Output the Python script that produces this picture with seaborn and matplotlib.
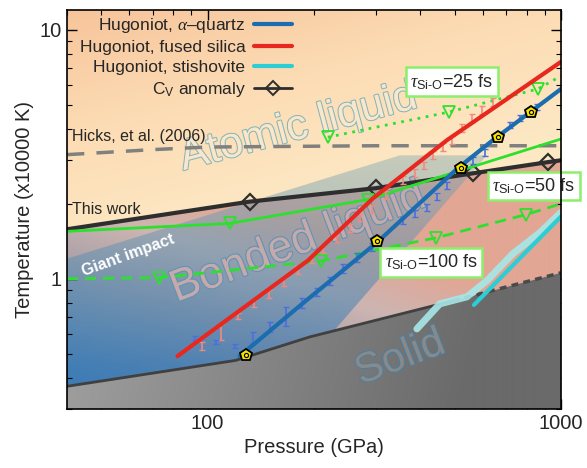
import numpy as np
import pandas as pd
import matplotlib
matplotlib.use("Agg")
import matplotlib.pyplot as plt
import matplotlib.patheffects as pe
import matplotlib.ticker as mticker
from matplotlib.colors import LinearSegmentedColormap
from matplotlib.patches import Polygon
from matplotlib.lines import Line2D
import seaborn as sns

# pressure in GPa, temperature in units of 10^4 K
this_work_p = [40, 131.5, 299, 563, 919, 1000]
this_work_t = [1.58, 2.04, 2.31, 2.65, 2.94, 2.99]

solid_p = [40, 120, 194.5, 494]
solid_t = [0.37, 0.47, 0.584, 0.815]
solid_dash_p = [494, 1000]
solid_dash_t = [0.815, 1.057]

hicks_p = [40, 70, 100, 300, 1000]
hicks_t = [3.15, 3.3, 3.38, 3.42, 3.42]

giant_p = [40, 350, 617, 221, 146, 40]
giant_t = [1.204, 3.13, 3.13, 0.589, 0.3, 0.3]

tau25_p = [218.8, 481.6, 860, 1000]
tau25_t = [3.70, 4.67, 5.78, 6.52]
tau50_p = [40, 115.4, 284, 1000]
tau50_t = [1.55, 1.667, 2.08, 3.64]
tau100_p = [40, 73, 210, 443, 796, 1000]
tau100_t = [1.0, 1.01, 1.18, 1.46, 1.81, 2.0]

fused_p = [82.2, 192, 293.4, 475.5, 1000]
fused_t = [0.489, 1.182, 2.10, 3.60, 7.43]
quartz_p = [123.2, 182.2, 301.2, 510, 641.5, 1000]
quartz_t = [0.489, 0.778, 1.397, 2.777, 3.601, 5.78]
stish_p = [567, 1000]
stish_t = [0.785, 1.778]
stish_band_p = [391, 454, 541.6, 617, 731, 872, 1000]
stish_band_t = [0.629, 0.793, 0.846, 0.982, 1.261, 1.533, 1.846]

pent_p = [128.1, 301.2, 521, 663, 822]
pent_t = [0.494, 1.423, 2.777, 3.70, 4.67]

fused_err_p = [96.2, 108.8, 121.6, 135.0, 148.9, 164.2, 179.9, 197.0, 211.7, 232.0,
               252.6, 269.6, 291.5, 319.3, 356.7, 385.9, 409.2, 433.9, 463.2, 491.2,
               524.3, 559.6, 597.1, 641.5]
fused_err_t = [0.537, 0.611, 0.709, 0.793, 0.870, 0.972, 1.087, 1.204, 1.321, 1.450,
               1.606, 1.762, 1.915, 2.161, 2.484, 2.651, 2.855, 3.133, 3.375, 3.601,
               4.026, 4.416, 4.757, 5.126]
fused_err = [0.02, 0.045, 0.02, 0.025, 0.03, 0.035, 0.04, 0.045, 0.05, 0.05,
             0.06, 0.06, 0.07, 0.08, 0.09, 0.1, 0.1, 0.11, 0.12, 0.13,
             0.14, 0.16, 0.17, 0.18]

quartz_err_p = [91.9, 105.4, 119.3, 134.1, 149.8, 166.3, 184.6, 203.6, 221.6, 241.2,
                264.3, 291.5, 356.7, 385.9, 417.3, 445.4, 475.5, 563.3, 609.2, 717.2,
                765.6, 855.0]
quartz_err_t = [0.578, 0.557, 0.537, 0.584, 0.640, 0.709, 0.800, 0.886, 0.982, 1.097,
                1.215, 1.346, 1.713, 1.828, 1.933, 2.141, 2.371, 2.991, 3.222, 4.140,
                4.416, 4.893]
quartz_err = [0.012, 0.012, 0.012, 0.03, 0.03, 0.06, 0.04, 0.035, 0.035, 0.045,
              0.05, 0.05, 0.05, 0.06, 0.06, 0.07, 0.08, 0.1, 0.1, 0.12,
              0.12, 0.14]

RED = "#e8281e"
BLUE = "#1b6db0"
CYAN = "#2ccdd4"
GREEN = "#2ee02e"


def gradient_fill(ax, tfunc, cmap, clip=None, zorder=0):
    u, v = np.meshgrid(np.linspace(0, 1, 400), np.linspace(0, 1, 400))
    im = ax.imshow(np.clip(tfunc(u, v), 0, 1), extent=[0, 1, 0, 1],
                   transform=ax.transAxes, origin="lower", cmap=cmap,
                   vmin=0, vmax=1, aspect="auto", interpolation="bilinear",
                   zorder=zorder)
    if clip is not None:
        im.set_clip_path(clip)
    return im


sns.set_theme(style="ticks")
plt.rcParams["font.family"] = ["Liberation Sans", "DejaVu Sans"]
plt.rcParams["mathtext.fontset"] = "custom"
plt.rcParams["mathtext.rm"] = "Liberation Sans"
plt.rcParams["mathtext.it"] = "Liberation Serif:italic"
plt.rcParams["mathtext.bf"] = "Liberation Sans:bold"

fig = plt.figure(figsize=(5.87, 4.68), dpi=100)
ax = fig.add_axes([0.1141, 0.1261, 0.8416, 0.8526])
ax.set_xscale("log")
ax.set_yscale("log")
ax.set_xlim(40, 1000)
ax.set_ylim(0.3, 12)
ax.set_autoscale_on(False)

# background phase regions
atomic_cmap = LinearSegmentedColormap.from_list("atomic", ["#f7c49b", "#fcdcb4", "#fde8c4"])
bonded_cmap = LinearSegmentedColormap.from_list(
    "bonded", [(0, "#4584b8"), (0.5, "#a9a0a8"), (0.75, "#cdb5b2"), (1, "#e2a694")])
solid_cmap = LinearSegmentedColormap.from_list("solid", ["#a9a9a9", "#6a6a6a"])
band_cmap = LinearSegmentedColormap.from_list(
    "band", [(55 / 255, 120 / 255, 181 / 255, 0.65), (128 / 255, 168 / 255, 176 / 255, 0.42)])

gradient_fill(ax, lambda u, v: 0.5 * u + 1.6 * (1 - v), atomic_cmap)

bonded_poly = Polygon(
    np.column_stack([this_work_p + solid_dash_p[::-1] + solid_p[::-1],
                     this_work_t + solid_dash_t[::-1] + solid_t[::-1]]),
    transform=ax.transData)
gradient_fill(ax, lambda u, v: (v - 0.05) * 1.6 + u * 0.7, bonded_cmap, bonded_poly)

giant_poly = Polygon(np.column_stack([giant_p, giant_t]), transform=ax.transData)
gradient_fill(ax, lambda u, v: (v - 0.1) / 0.55, band_cmap, giant_poly, zorder=0.5)

solid_poly = Polygon(
    np.column_stack([solid_p + solid_dash_p[1:] + [1000, 40],
                     solid_t + solid_dash_t[1:] + [0.3, 0.3]]),
    transform=ax.transData)
gradient_fill(ax, lambda u, v: u + 0.2 * (1 - v), solid_cmap, solid_poly, zorder=0.6)

# phase labels
outline_kw = dict(ha="center", va="center", zorder=1)
ax.text(0.468, 0.704, "Atomic liquid", transform=ax.transAxes, rotation=15,
        fontsize=31, color="#fae7cb",
        path_effects=[pe.Stroke(linewidth=1.5, foreground="#86b6ba"), pe.Normal()],
        **outline_kw)
ax.text(0.468, 0.416, "Bonded liquid", transform=ax.transAxes, rotation=21,
        fontsize=32, color="#c4aaab",
        path_effects=[pe.Stroke(linewidth=1.6, foreground="#6392b4"), pe.Normal()],
        **outline_kw)
ax.text(0.674, 0.128, "Solid", transform=ax.transAxes, rotation=21,
        fontsize=30, color="#898989",
        path_effects=[pe.Stroke(linewidth=1.5, foreground="#4a7fa0"), pe.Normal()],
        **outline_kw)
ax.text(0.123, 0.386, "Giant impact", transform=ax.transAxes, rotation=20,
        fontsize=11.5, fontweight="bold", color="white", ha="center", va="center",
        zorder=1)

# phase boundaries
lines = pd.DataFrame({"P": this_work_p, "T": this_work_t})
sns.lineplot(data=lines, x="P", y="T", ax=ax, sort=False, estimator=None,
             color="#2e2e2e", lw=3, marker="D", markevery=[1, 2, 3, 4],
             markersize=8, mfc="none", mec="#2e2e2e", mew=1.6, zorder=3)
sns.lineplot(x=solid_p, y=solid_t, ax=ax, sort=False, estimator=None,
             color="#404040", lw=2, zorder=2)
sns.lineplot(x=solid_dash_p, y=solid_dash_t, ax=ax, sort=False, estimator=None,
             color="#4a4a4a", lw=2.5, dashes=False, linestyle=(0, (2, 1.5)), zorder=2)
sns.lineplot(x=hicks_p, y=hicks_t, ax=ax, sort=False, estimator=None,
             color="#808080", lw=2.5, linestyle=(0, (5, 3.5)), zorder=2)

# relaxation-time lines
tri = dict(marker="v", markersize=9, mfc="none", mec=GREEN, mew=1.3)
sns.lineplot(x=tau25_p, y=tau25_t, ax=ax, sort=False, estimator=None, color=GREEN,
             lw=2, linestyle=(0, (1, 2)), markevery=[0, 1, 2], zorder=3, **tri)
sns.lineplot(x=tau50_p, y=tau50_t, ax=ax, sort=False, estimator=None, color=GREEN,
             lw=2, markevery=[1, 2], zorder=3, **tri)
sns.lineplot(x=tau100_p, y=tau100_t, ax=ax, sort=False, estimator=None, color=GREEN,
             lw=2, linestyle=(0, (4, 2.5)), markevery=[1, 2, 3, 4], zorder=3, **tri)

# Hugoniots
ax.errorbar(fused_err_p, fused_err_t, yerr=fused_err, fmt="none", ecolor="#f08a80",
            elinewidth=1.2, capsize=2, zorder=3)
ax.errorbar(quartz_err_p, quartz_err_t, yerr=quartz_err, fmt="none", ecolor="#4a6fe0",
            elinewidth=1.2, capsize=2.5, zorder=3)
sns.lineplot(x=stish_band_p, y=stish_band_t, ax=ax, sort=False, estimator=None,
             color="#a8e8e8", lw=5, alpha=0.9, zorder=3)
sns.lineplot(x=fused_p, y=fused_t, ax=ax, sort=False, estimator=None, color=RED,
             lw=3, zorder=4)
sns.lineplot(x=quartz_p, y=quartz_t, ax=ax, sort=False, estimator=None, color=BLUE,
             lw=3, zorder=4)
sns.lineplot(x=stish_p, y=stish_t, ax=ax, sort=False, estimator=None, color=CYAN,
             lw=3, zorder=4)
ax.plot(pent_p, pent_t, ls="none", marker="p", markersize=9, mfc="#f5e400",
        mec="black", mew=1.3, zorder=5)
ax.plot(pent_p, pent_t, ls="none", marker="o", markersize=3, mfc="none",
        mec="black", mew=0.8, zorder=6)

# annotations
ax.text(0.010, 0.684, "Hicks, et al. (2006)", transform=ax.transAxes, fontsize=11.5,
        ha="left", va="center", zorder=5)
ax.text(0.010, 0.501, "This work", transform=ax.transAxes, fontsize=11.5,
        ha="left", va="center", zorder=5)
box = dict(boxstyle="square,pad=0.25", fc="white", ec="#8cef6a", lw=1.8)
tau_label = "$\\tau_{\\mathrm{Si\u2010O}}$="
for u, v, lab in [(0.779, 0.820, "25"), (0.945, 0.559, "50"), (0.737, 0.368, "100")]:
    ax.text(u, v, tau_label + lab + " fs", transform=ax.transAxes,
            fontsize=13, ha="center", va="center", bbox=box, zorder=7,
            clip_on=False)

handles = [
    Line2D([], [], color=BLUE, lw=3),
    Line2D([], [], color=RED, lw=3),
    Line2D([], [], color=CYAN, lw=3),
    Line2D([], [], color="#2e2e2e", lw=2, marker="D", markersize=7, mfc="none", mew=1.4),
]
labels = [r"Hugoniot, $\alpha$–quartz", "Hugoniot, fused silica",
          "Hugoniot, stishovite", r"C$_\mathrm{V}$ anomaly"]
leg = ax.legend(handles, labels, loc="upper right", bbox_to_anchor=(0.47, 1.003),
                frameon=False, markerfirst=False, fontsize=12.5, handlelength=2.2,
                handletextpad=0.5, labelspacing=0.28, borderaxespad=0)
leg.set_zorder(8)

ax.set_xlabel("Pressure (GPa)", fontsize=14.5)
ax.set_ylabel("Temperature (x10000 K)", fontsize=14.5)
fmt = mticker.FuncFormatter(lambda v, _: f"{v:g}")
ax.xaxis.set_major_formatter(fmt)
ax.yaxis.set_major_formatter(fmt)
ax.xaxis.set_minor_formatter(mticker.NullFormatter())
ax.yaxis.set_minor_formatter(mticker.NullFormatter())
ax.tick_params(which="both", direction="in", top=True, right=True, labelsize=14.5,
               color="black")
ax.tick_params(which="major", length=7, width=1)
ax.tick_params(which="minor", length=3.5, width=0.8)
for s in ax.spines.values():
    s.set_color("black")
    s.set_linewidth(1.2)
    s.set_zorder(10)

fig.savefig("out.png", dpi=100)
